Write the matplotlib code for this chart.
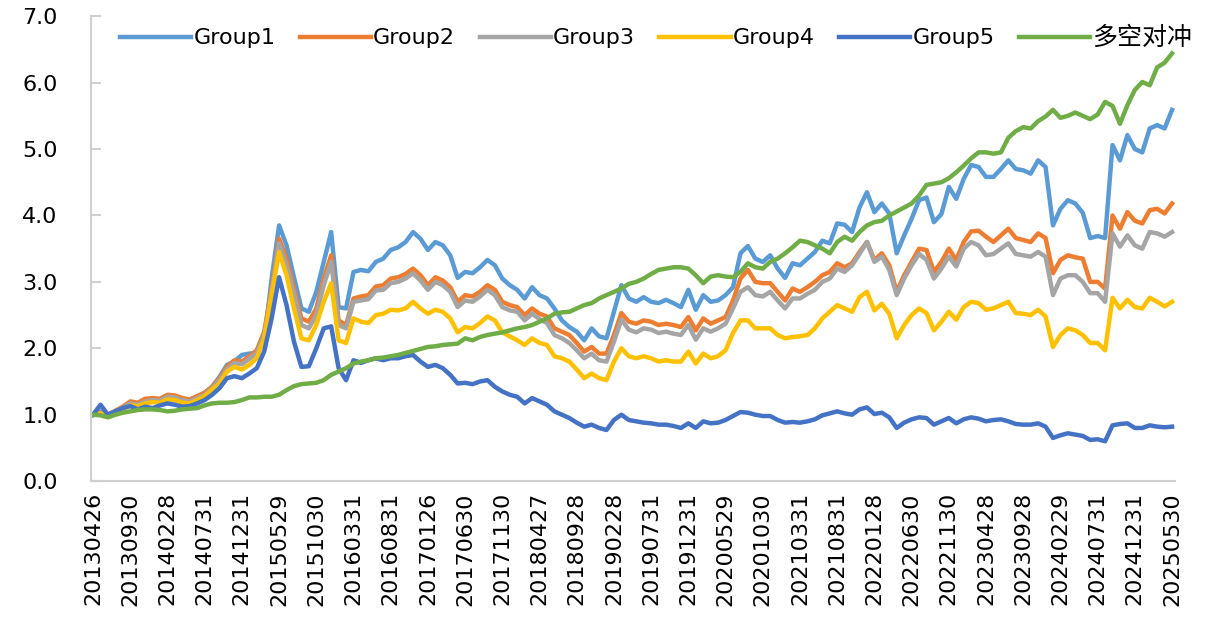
import matplotlib
matplotlib.use('Agg')
import matplotlib.pyplot as plt
import numpy as np

plt.rcParams['font.family'] = ['DejaVu Sans', 'Noto Sans CJK SC']

tick_labels = ['20130426', '20130930', '20140228', '20140731', '20141231', '20150529',
               '20151030', '20160331', '20160831', '20170126', '20170630', '20171130',
               '20180427', '20180928', '20190228', '20190731', '20191231', '20200529',
               '20201030', '20210331', '20210831', '20220128', '20220630', '20221130',
               '20230428', '20230928', '20240229', '20240731', '20241231', '20250530']

group1 = [1.00, 1.05, 1.00, 1.05, 1.10, 1.17, 1.16, 1.20, 1.22, 1.21,
          1.27, 1.27, 1.24, 1.22, 1.27, 1.33, 1.42, 1.57, 1.75, 1.80,
          1.90, 1.92, 1.93, 2.10, 3.05, 3.85, 3.55, 3.07, 2.60, 2.55,
          2.85, 3.30, 3.75, 2.62, 2.60, 3.15, 3.18, 3.16, 3.30, 3.35,
          3.48, 3.52, 3.60, 3.75, 3.65, 3.48, 3.60, 3.55, 3.40, 3.06,
          3.15, 3.13, 3.22, 3.33, 3.25, 3.05, 2.95, 2.88, 2.75, 2.92,
          2.80, 2.75, 2.60, 2.42, 2.32, 2.25, 2.12, 2.30, 2.18, 2.15,
          2.55, 2.95, 2.75, 2.70, 2.77, 2.70, 2.68, 2.73, 2.68, 2.62,
          2.88, 2.58, 2.80, 2.70, 2.72, 2.80, 2.92, 3.43, 3.54, 3.35,
          3.30, 3.40, 3.20, 3.06, 3.28, 3.25, 3.35, 3.45, 3.62, 3.58,
          3.88, 3.86, 3.75, 4.12, 4.35, 4.05, 4.18, 4.03, 3.43, 3.70,
          3.95, 4.23, 4.27, 3.90, 4.02, 4.43, 4.25, 4.55, 4.76, 4.73,
          4.58, 4.58, 4.70, 4.83, 4.70, 4.68, 4.63, 4.83, 4.73, 3.85,
          4.10, 4.23, 4.18, 4.04, 3.66, 3.69, 3.66, 5.06, 4.83, 5.21,
          5.00, 4.95, 5.31, 5.36, 5.31, 5.59]

group2 = [1.00, 1.03, 1.00, 1.06, 1.12, 1.20, 1.18, 1.24, 1.25, 1.24,
          1.30, 1.29, 1.25, 1.23, 1.28, 1.33, 1.42, 1.55, 1.72, 1.82,
          1.80, 1.88, 1.97, 2.25, 2.90, 3.65, 3.35, 2.90, 2.45, 2.40,
          2.60, 3.05, 3.40, 2.42, 2.35, 2.75, 2.78, 2.80, 2.93, 2.95,
          3.05, 3.07, 3.12, 3.20, 3.10, 2.95, 3.07, 3.02, 2.92, 2.70,
          2.80, 2.78, 2.85, 2.95, 2.88, 2.70, 2.65, 2.62, 2.50, 2.60,
          2.52, 2.48, 2.30, 2.25, 2.20, 2.08, 1.95, 2.02, 1.92, 1.92,
          2.20, 2.53, 2.40, 2.37, 2.42, 2.40, 2.35, 2.37, 2.35, 2.32,
          2.47, 2.27, 2.45, 2.37, 2.42, 2.47, 2.72, 3.05, 3.18, 3.00,
          2.98, 2.98, 2.85, 2.72, 2.90, 2.85, 2.92, 3.00, 3.10, 3.15,
          3.28, 3.22, 3.28, 3.45, 3.60, 3.33, 3.43, 3.25, 2.85, 3.10,
          3.30, 3.50, 3.48, 3.15, 3.30, 3.50, 3.33, 3.60, 3.76, 3.77,
          3.68, 3.60, 3.70, 3.80, 3.66, 3.63, 3.60, 3.73, 3.66, 3.13,
          3.33, 3.40, 3.37, 3.35, 3.00, 3.00, 2.90, 4.00, 3.80, 4.05,
          3.92, 3.88, 4.08, 4.10, 4.03, 4.18]

group3 = [1.00, 1.02, 0.98, 1.05, 1.10, 1.17, 1.15, 1.20, 1.22, 1.21,
          1.27, 1.26, 1.22, 1.20, 1.25, 1.30, 1.40, 1.52, 1.68, 1.78,
          1.76, 1.84, 1.93, 2.20, 2.85, 3.58, 3.25, 2.82, 2.35, 2.30,
          2.50, 2.95, 3.30, 2.35, 2.30, 2.70, 2.72, 2.74, 2.87, 2.88,
          2.98, 3.00, 3.05, 3.13, 3.02, 2.88, 3.00, 2.95, 2.85, 2.62,
          2.72, 2.70, 2.78, 2.88, 2.80, 2.62, 2.57, 2.55, 2.42, 2.52,
          2.44, 2.38, 2.20, 2.15, 2.08, 1.97, 1.85, 1.92, 1.82, 1.80,
          2.10, 2.43, 2.28, 2.24, 2.30, 2.28, 2.23, 2.25, 2.22, 2.20,
          2.35, 2.13, 2.30, 2.25, 2.30, 2.37, 2.60, 2.85, 2.92, 2.80,
          2.78, 2.85, 2.72, 2.60, 2.75, 2.75, 2.82, 2.88, 3.00, 3.05,
          3.20, 3.15, 3.25, 3.42, 3.60, 3.30, 3.38, 3.18, 2.80, 3.05,
          3.25, 3.42, 3.33, 3.05, 3.20, 3.38, 3.23, 3.50, 3.60, 3.55,
          3.40, 3.42, 3.50, 3.58, 3.42, 3.40, 3.38, 3.45, 3.38, 2.80,
          3.05, 3.10, 3.10, 3.00, 2.83, 2.83, 2.70, 3.73, 3.53, 3.70,
          3.55, 3.50, 3.75, 3.73, 3.68, 3.75]

group4 = [1.00, 1.02, 0.97, 1.03, 1.08, 1.14, 1.13, 1.17, 1.19, 1.18,
          1.23, 1.22, 1.18, 1.17, 1.22, 1.28, 1.38, 1.47, 1.65, 1.72,
          1.68, 1.75, 1.85, 2.15, 2.80, 3.45, 3.10, 2.60, 2.15, 2.12,
          2.35, 2.70, 2.98, 2.12, 2.08, 2.45, 2.40, 2.38, 2.50, 2.52,
          2.58, 2.57, 2.60, 2.70, 2.60, 2.52, 2.58, 2.55, 2.45, 2.24,
          2.32, 2.30, 2.38, 2.48, 2.42, 2.24, 2.18, 2.12, 2.05, 2.15,
          2.08, 2.05, 1.88, 1.85, 1.80, 1.68, 1.55, 1.62, 1.55, 1.52,
          1.80, 2.00, 1.88, 1.85, 1.88, 1.85, 1.80, 1.82, 1.80, 1.80,
          1.95, 1.77, 1.92, 1.85, 1.88, 1.97, 2.23, 2.42, 2.42, 2.30,
          2.30, 2.30, 2.20, 2.15, 2.17, 2.18, 2.20, 2.30, 2.45, 2.55,
          2.65, 2.60, 2.55, 2.77, 2.85, 2.57, 2.67, 2.52, 2.15, 2.35,
          2.50, 2.60, 2.53, 2.27, 2.40, 2.55, 2.43, 2.62, 2.70, 2.68,
          2.58, 2.60, 2.65, 2.70, 2.53, 2.52, 2.50, 2.58, 2.48, 2.02,
          2.20, 2.30, 2.27, 2.20, 2.08, 2.08, 1.97, 2.76, 2.60, 2.73,
          2.62, 2.60, 2.76, 2.70, 2.63, 2.70]

group5 = [1.00, 1.15, 1.00, 1.05, 1.10, 1.13, 1.08, 1.12, 1.10, 1.14,
          1.17, 1.15, 1.12, 1.13, 1.17, 1.22, 1.30, 1.40, 1.55, 1.58,
          1.55, 1.62, 1.70, 1.95, 2.45, 3.07, 2.65, 2.10, 1.72, 1.73,
          2.00, 2.30, 2.33, 1.70, 1.52, 1.82, 1.78, 1.82, 1.85, 1.82,
          1.85, 1.85, 1.88, 1.90, 1.80, 1.72, 1.75, 1.70, 1.60, 1.47,
          1.48, 1.46, 1.50, 1.52, 1.42, 1.35, 1.30, 1.27, 1.17, 1.25,
          1.20, 1.15, 1.05, 1.00, 0.95, 0.88, 0.82, 0.85, 0.80, 0.77,
          0.92, 1.00, 0.92, 0.90, 0.88, 0.87, 0.85, 0.85, 0.83, 0.80,
          0.87, 0.80, 0.90, 0.87, 0.88, 0.92, 0.98, 1.04, 1.03, 1.00,
          0.98, 0.98, 0.92, 0.88, 0.89, 0.88, 0.90, 0.93, 0.99, 1.02,
          1.05, 1.02, 1.00, 1.08, 1.11, 1.01, 1.03, 0.96, 0.80, 0.88,
          0.93, 0.96, 0.95, 0.85, 0.90, 0.95, 0.87, 0.93, 0.96, 0.94,
          0.90, 0.92, 0.93, 0.90, 0.86, 0.85, 0.85, 0.87, 0.82, 0.65,
          0.69, 0.72, 0.70, 0.68, 0.62, 0.63, 0.60, 0.84, 0.86, 0.87,
          0.80, 0.80, 0.84, 0.82, 0.81, 0.82]

long_short = [1.00, 0.99, 0.96, 1.00, 1.03, 1.05, 1.07, 1.08, 1.08, 1.07,
              1.05, 1.06, 1.08, 1.09, 1.10, 1.14, 1.17, 1.18, 1.18, 1.19,
              1.22, 1.26, 1.26, 1.27, 1.27, 1.30, 1.37, 1.43, 1.46, 1.47,
              1.48, 1.52, 1.60, 1.65, 1.70, 1.77, 1.80, 1.82, 1.85, 1.86,
              1.88, 1.90, 1.93, 1.96, 1.99, 2.02, 2.03, 2.05, 2.06, 2.07,
              2.15, 2.12, 2.17, 2.20, 2.22, 2.24, 2.27, 2.30, 2.32, 2.35,
              2.40, 2.45, 2.52, 2.54, 2.55, 2.60, 2.65, 2.68, 2.75, 2.80,
              2.85, 2.90, 2.97, 3.00, 3.05, 3.12, 3.18, 3.20, 3.22, 3.22,
              3.20, 3.10, 2.98, 3.08, 3.10, 3.08, 3.07, 3.15, 3.28, 3.22,
              3.20, 3.30, 3.35, 3.43, 3.52, 3.62, 3.60, 3.55, 3.50, 3.43,
              3.60, 3.68, 3.62, 3.75, 3.85, 3.90, 3.92, 4.00, 4.06, 4.12,
              4.18, 4.30, 4.46, 4.48, 4.50, 4.56, 4.65, 4.75, 4.86, 4.95,
              4.95, 4.93, 4.95, 5.17, 5.27, 5.33, 5.31, 5.42, 5.49, 5.59,
              5.47, 5.50, 5.55, 5.50, 5.45, 5.52, 5.71, 5.65, 5.38, 5.66,
              5.89, 6.01, 5.96, 6.23, 6.30, 6.44]

names = ['Group1', 'Group2', 'Group3', 'Group4', 'Group5', '多空对冲']
colors = ['#5B9BD5', '#ED7D31', '#A5A5A5', '#FFC000', '#4472C4', '#70AD47']
series = [group1, group2, group3, group4, group5, long_short]

fig = plt.figure(figsize=(12.09, 6.24), dpi=100)
ax = fig.add_axes([0.0753, 0.229, 0.8966, 0.745])

x = np.arange(len(group1))
for vals, name, c in zip(series, names, colors):
    ax.plot(x, vals, color=c, lw=3.2, label=name, solid_joinstyle='round')

ax.set_xlim(-0.27, 145.4)
ax.set_ylim(0, 7)
ax.set_yticks(np.arange(0, 7.01, 1.0))
ax.set_yticklabels([f'{v:.1f}' for v in np.arange(0, 7.01, 1.0)], fontsize=16)
ax.set_xticks(x[::5])
ax.set_xticklabels(tick_labels, rotation=90, fontsize=16)

for s in ['top', 'right']:
    ax.spines[s].set_visible(False)
for s in ['left', 'bottom']:
    ax.spines[s].set_color('#D0D0D0')
    ax.spines[s].set_linewidth(1.5)
ax.tick_params(axis='y', direction='in', length=7, width=1.5, color='#D0D0D0', pad=24)
ax.tick_params(axis='x', length=0, pad=8)

leg = fig.legend(loc='center left', bbox_to_anchor=(0.092, 0.94), ncol=6, frameon=False,
                 fontsize=16, handlelength=3.2, handletextpad=0.1, columnspacing=1.1,
                 borderaxespad=0)
leg.get_texts()[-1].set_fontsize(18)

fig.savefig('out.png', dpi=100)
